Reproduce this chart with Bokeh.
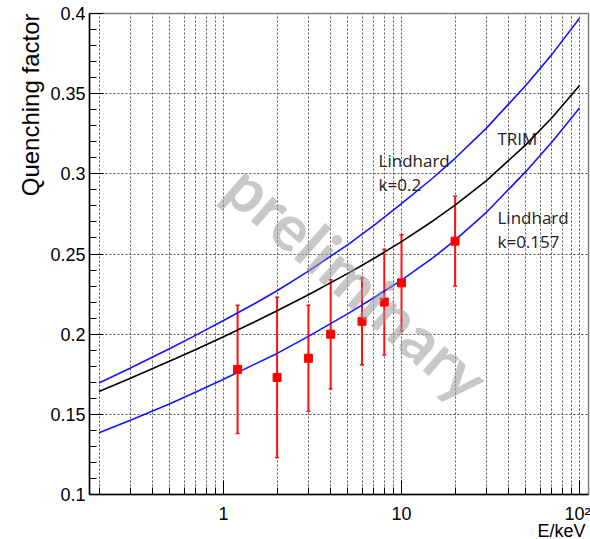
import math
from bokeh.plotting import figure
from bokeh.models import (Range1d, FixedTicker, CustomJSTickFormatter, Label,
                          Whisker, ColumnDataSource, TeeHead, Title)
from bokeh.embed import file_html
from bokeh.resources import INLINE

# ---- data ----
energy_curve = [0.2, 0.3, 0.5, 0.7, 1, 1.5, 2, 3, 5, 7, 10, 15, 20, 30, 50, 70, 100]
lindhard_k02 = [0.1695, 0.1789, 0.1911, 0.1994, 0.2085, 0.2191, 0.2271, 0.2393, 0.2559,
                0.2679, 0.2814, 0.2974, 0.3097, 0.3285, 0.3553, 0.3745, 0.3971]
trim_curve = [0.1642, 0.1725, 0.1832, 0.1905, 0.1984, 0.2077, 0.2146, 0.2246, 0.2379,
              0.2472, 0.2577, 0.2706, 0.2805, 0.2958, 0.3182, 0.3350, 0.3551]
lindhard_k0157 = [0.1385, 0.1463, 0.1566, 0.1639, 0.1719, 0.1813, 0.1880, 0.1986, 0.2128,
                  0.2227, 0.2337, 0.2476, 0.2586, 0.2760, 0.3015, 0.3199, 0.3410]

energy_data = [1.2, 2, 3, 4, 6, 8, 10, 20]
qf_data = [0.178, 0.173, 0.185, 0.200, 0.208, 0.220, 0.232, 0.258]
qf_err = [0.040, 0.050, 0.033, 0.034, 0.027, 0.033, 0.030, 0.028]

x_major_ticks = [1, 10, 100]
x_minor_ticks = [m * d for d in (0.1, 1, 10) for m in range(2, 10)]
y_major_ticks = [0.1, 0.15, 0.2, 0.25, 0.3, 0.35, 0.4]
y_minor_ticks = [round(0.1 + 0.01 * i, 2) for i in range(31)]

curve_labels = ["Lindhard", "k=0.2", "TRIM", "Lindhard", "k=0.157"]
curve_label_x = [7.43, 7.43, 34.6, 34.6, 34.6]
curve_label_y = [0.3083, 0.2933, 0.322, 0.2728, 0.2578]

p = figure(width=590, height=539, x_axis_type="log",
           x_range=Range1d(0.1767, 112.3), y_range=Range1d(0.1, 0.4),
           output_backend="svg", toolbar_location=None,
           min_border_left=89, min_border_right=2, min_border_top=13,
           min_border_bottom=45)
p.background_fill_color = "white"
p.border_fill_color = "white"
p.outline_line_color = "#7f7f7f"
p.outline_line_width = 1.5

# axes
xt = FixedTicker(ticks=x_major_ticks, minor_ticks=x_minor_ticks)
yt = FixedTicker(ticks=y_major_ticks, minor_ticks=y_minor_ticks)
p.xaxis.ticker = xt
p.yaxis.ticker = yt
p.xgrid.ticker = xt
p.ygrid.ticker = yt
p.xaxis.formatter = CustomJSTickFormatter(code="return tick >= 100 ? '10\u00b2' : String(tick);")
p.yaxis.formatter = CustomJSTickFormatter(code="return String(Math.round(tick*100)/100);")

for ax in (p.xaxis, p.yaxis):
    ax.axis_line_color = "black"
    ax.axis_line_width = 1.5
    ax.major_tick_line_color = "black"
    ax.minor_tick_line_color = "black"
    ax.major_tick_out = 0
    ax.minor_tick_out = 0
    ax.major_tick_in = 14
    ax.minor_tick_in = 7
    ax.major_label_text_font = "Liberation Sans"
    ax.major_label_text_font_size = "18px"
    ax.major_label_text_color = "black"
p.xaxis.major_label_standoff = 9
p.yaxis.major_label_standoff = 4

# grid
p.xgrid.grid_line_color = "#555555"
p.xgrid.grid_line_dash = "2 2"
p.xgrid.minor_grid_line_color = "#555555"
p.xgrid.minor_grid_line_dash = "2 2"
p.ygrid.grid_line_color = "#555555"
p.ygrid.grid_line_dash = "2 2"

# watermark (drawn under the curves)
p.add_layout(Label(x=5.7, y=0.2325, text="preliminary", angle=-41 * math.pi / 180,
                   text_font="Lato", text_font_style="bold",
                   text_font_size="64px", text_color="#9a9a9a", text_alpha=0.55,
                   text_align="center", text_baseline="middle"))

# curves
p.line(energy_curve, lindhard_k02, line_color="#1414ff", line_width=1.6)
p.line(energy_curve, lindhard_k0157, line_color="#1414ff", line_width=1.6)
p.line(energy_curve, trim_curve, line_color="black", line_width=1.6)

# data with errors
src = ColumnDataSource(dict(
    x=energy_data, y=qf_data,
    lo=[v - e for v, e in zip(qf_data, qf_err)],
    hi=[v + e for v, e in zip(qf_data, qf_err)]))
p.add_layout(Whisker(source=src, base="x", lower="lo", upper="hi",
                     line_color="#ff1010", line_width=2,
                     upper_head=TeeHead(size=4, line_color="#ff1010", line_width=1.5),
                     lower_head=TeeHead(size=4, line_color="#ff1010", line_width=1.5)))
p.scatter("x", "y", source=src, marker="square", size=8, color="#ff0000")

# curve labels
for t, lx, ly in zip(curve_labels, curve_label_x, curve_label_y):
    p.add_layout(Label(x=lx, y=ly, text=t, text_font="Open Sans",
                       text_font_size="17px", text_color="#222222",
                       text_align="left", text_baseline="alphabetic"))

# axis titles
p.add_layout(Title(text="Quenching factor", align="right", text_font="Liberation Sans",
                   text_font_size="24px", text_font_style="normal", text_color="black",
                   standoff=8), "left")
p.add_layout(Title(text="E/keV", align="right", text_font="Liberation Sans",
                   text_font_size="18px", text_font_style="normal", text_color="black",
                   standoff=-15, offset=3), "below")

open("out.html", "w").write(file_html(p, INLINE))
